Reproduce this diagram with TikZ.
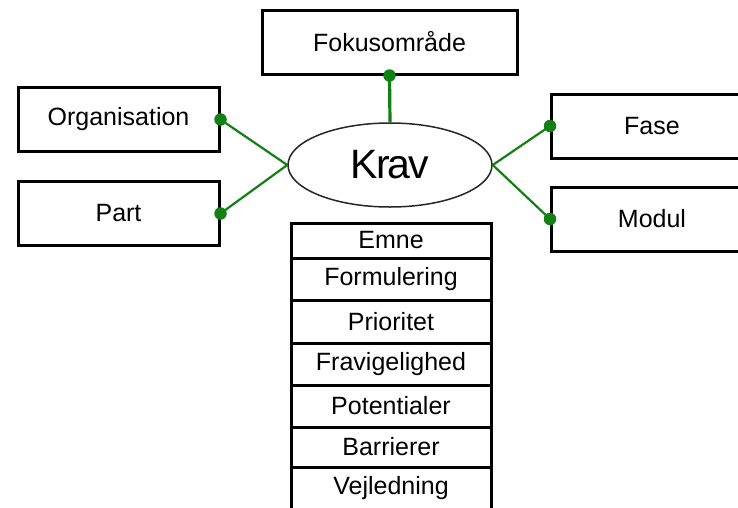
\documentclass[tikz,border=0pt]{standalone}
\usepackage{fontspec}
\setmainfont{Liberation Sans}
\usetikzlibrary{shapes.geometric}
\definecolor{linkgreen}{RGB}{18,128,18}
\tikzset{
  box/.style={draw=black, line width=3pt, minimum width=201pt, minimum height=64pt,
    inner sep=0pt, font=\fontsize{25}{29}\selectfont},
  row/.style={draw=black, line width=3pt, minimum width=200pt, inner sep=0pt,
    font=\fontsize{25}{29}\selectfont},
  link/.style={draw=linkgreen, line width=2.2pt},
  dot/.style={fill=linkgreen, draw=none, circle, minimum size=12.5pt, inner sep=0pt}
}
\begin{document}
\begin{tikzpicture}[x=1pt, y=-1pt]
  \useasboundingbox (0,0) rectangle (738,507);
  \clip (0,0) rectangle (738,507);
  \fill[white] (0,0) rectangle (738,507);

  % entity boxes around the central requirement
  \node[box, minimum width=255pt] (fok) at (389.5,42) {Fokusområde};
  \node[box] (org) at (118.5,119.5) {Organisation};
  \node[box] (part) at (118.5,213.5) {Part};
  \node[box] (fase) at (652,126) {Fase};
  \node[box] (modul) at (652,219) {Modul};

  % central ellipse
  \node[draw=black!85, line width=1.5pt, ellipse, minimum width=204pt, minimum height=84pt,
        inner sep=0pt, font=\fontsize{41}{45}\selectfont\addfontfeatures{LetterSpace=-5}] (krav) at (390,165) {Krav};

  % attribute list below the ellipse
  \node[row, minimum height=35pt] (r1) at (391,240.5) {Emne};
  \node[row, minimum height=42pt] (r2) at (391,279) {Formulering};
  \node[row, minimum height=43pt] (r3) at (391,321.5) {Prioritet};
  \node[row, minimum height=42pt] (r4) at (391,364) {Fravigelighed};
  \node[row, minimum height=42pt] (r5) at (391,406) {Potentialer};
  \node[row, minimum height=40pt] (r6) at (391,447) {Barrierer};
  \node[row, minimum height=42pt] (r7) at (391,488) {Vejledning};

  % green connectors with round end dots
  \draw[link, line width=3.2pt] (fok.south) -- (krav.north);
  \draw[link] (org.east) -- (krav.west);
  \draw[link] (part.east) -- (krav.west);
  \draw[link] (fase.west) -- (krav.east);
  \draw[link] (modul.west) -- (krav.east);

  \node[dot] (d1) at (fok.south) {};
  \node[dot] (d2) at (org.east) {};
  \node[dot] (d3) at (part.east) {};
  \node[dot] (d4) at (fase.west) {};
  \node[dot] (d5) at (modul.west) {};
\end{tikzpicture}
\end{document}
